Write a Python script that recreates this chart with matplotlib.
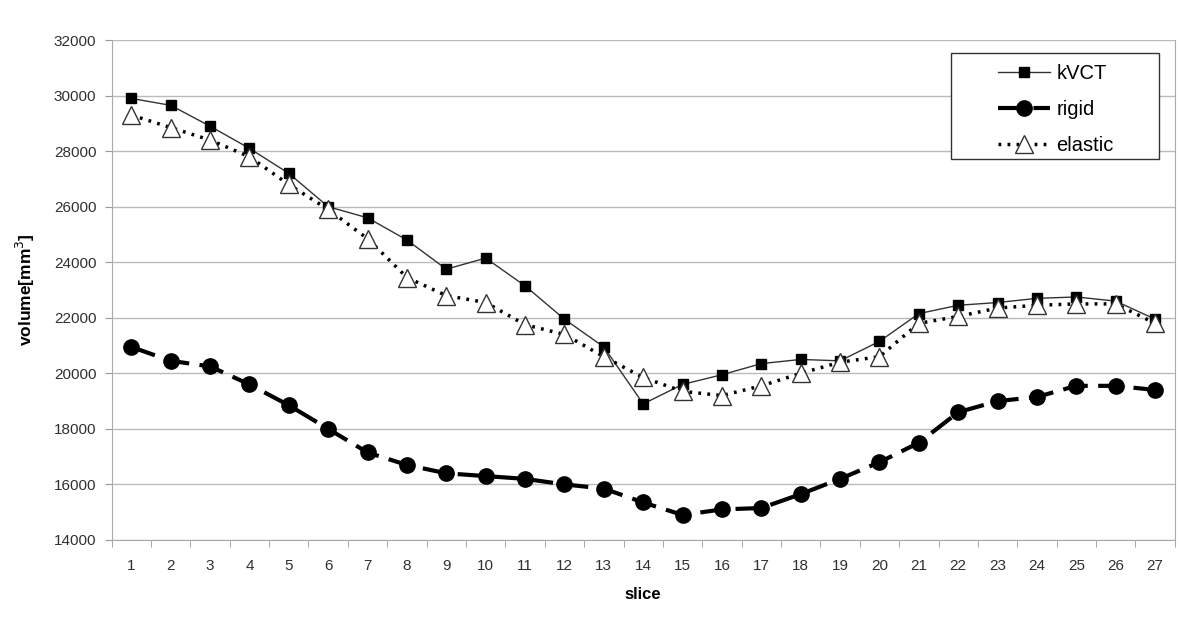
import matplotlib.pyplot as plt
from matplotlib.patches import Rectangle
import numpy as np

plt.rcParams['font.family'] = ['Liberation Sans', 'DejaVu Sans']

slices = list(range(1, 28))
kvct = [29900, 29650, 28900, 28100, 27200, 26000, 25600, 24800, 23750, 24150,
        23150, 21950, 20950, 18900, 19600, 19950, 20350, 20500, 20450, 21150,
        22150, 22450, 22550, 22700, 22750, 22600, 21950]
rigid = [20950, 20450, 20250, 19600, 18850, 18000, 17150, 16700, 16400, 16300,
         16200, 16000, 15850, 15350, 14900, 15100, 15150, 15650, 16200, 16800,
         17500, 18600, 19000, 19150, 19550, 19550, 19400]
elastic = [29300, 28850, 28400, 27800, 26800, 25900, 24850, 23450, 22800, 22550,
           21750, 21400, 20600, 19850, 19350, 19200, 19550, 20000, 20400, 20600,
           21800, 22050, 22350, 22450, 22500, 22500, 21800]

fig = plt.figure(figsize=(12, 6.36), dpi=100)
ax = fig.add_axes([0.093, 0.151, 0.886, 0.786])

ax.plot(slices, kvct, color='#333333', lw=1.0, marker='s', ms=7,
        mfc='black', mec='black', label='kVCT', zorder=3)
ax.plot(slices, rigid, color='black', lw=3, dashes=(6, 2.5), marker='o', ms=11,
        mfc='black', mec='black', label='rigid', zorder=3)
ax.plot(slices, elastic, color='black', lw=2.5, ls=(0, (0.8, 1.8)), marker='^',
        ms=13, mfc='white', mec='#333333', mew=1.0, label='elastic', zorder=4)

ax.set_xlim(0.5, 27.5)
ax.set_ylim(14000, 32000)
ax.set_yticks(np.arange(14000, 32001, 2000))
ax.set_xticks(slices)
ax.set_xticks(np.arange(0.5, 28, 1), minor=True)
ax.tick_params(axis='x', which='major', length=0, pad=14, labelsize=11, labelcolor='#303030')
ax.tick_params(axis='x', which='minor', length=5, color='#999999')
ax.tick_params(axis='y', length=5, color='#999999', labelsize=11, labelcolor='#303030', pad=6)

ax.grid(axis='y', color='#bbbbbb', lw=1.0)
ax.set_axisbelow(True)
for s in ax.spines.values():
    s.set_color('#aaaaaa')
ax.spines['top'].set_visible(False)

ax.set_xlabel('slice', fontsize=12, fontweight='bold', labelpad=10)
ax.set_ylabel('volume[mm$^3$]', fontsize=12.5, fontweight='bold', labelpad=12)

# legend box drawn separately (Excel-style wide padding)
box = Rectangle((0.7925, 0.75), 0.1733, 0.1667, transform=fig.transFigure,
                facecolor='white', edgecolor='#333333', lw=1.0, zorder=5, clip_on=False)
ax.add_artist(box)
leg = ax.legend(loc='upper left', bbox_to_anchor=(0.8317, 0.899),
                bbox_transform=fig.transFigure, fontsize=14.5, frameon=False,
                handlelength=2.6, labelspacing=0.85, borderpad=0, borderaxespad=0,
                handletextpad=0.3)
leg.set_zorder(6)

plt.savefig('out.png', dpi=100)
